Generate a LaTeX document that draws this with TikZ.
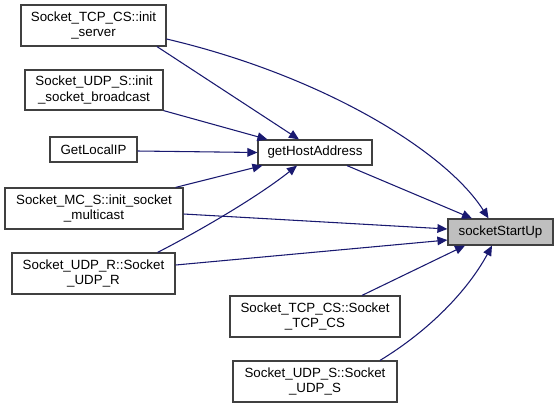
\documentclass[tikz,border=0pt]{standalone}
\usepackage{fontspec}
\setmainfont{Liberation Sans}
\usetikzlibrary{arrows.meta,calc}
\definecolor{edgeblue}{HTML}{191970}
\definecolor{boxgray}{HTML}{404040}
\definecolor{hilite}{HTML}{BFBFBF}
\newcommand\pxu{0.75pt}
\tikzset{
  fn/.style={draw=boxgray, line width=0.9pt, fill=white, inner sep=0pt, align=center,
    font=\fontsize{10pt}{11.5pt}\selectfont},
  cur/.style={fn, fill=hilite},
  call/.style={draw=edgeblue, line width=0.8pt,
    -{Triangle[length=7.5pt, width=6.5pt, fill=edgeblue]}}
}
\begin{document}
\begin{tikzpicture}[x=0.75pt, y=-0.75pt]
\useasboundingbox (0,0) rectangle (559,408);
\node[fn, minimum width=145*\pxu, minimum height=41*\pxu] (initserver) at (93.5,25.5) {Socket\_TCP\_CS::init\\\_server};
\node[fn, minimum width=138*\pxu, minimum height=40*\pxu] (broadcast) at (94,90) {Socket\_UDP\_S::init\\\_socket\_broadcast};
\node[fn, minimum width=87*\pxu, minimum height=25*\pxu] (getlocal) at (93.5,149.5) {GetLocalIP};
\node[fn, minimum width=178*\pxu, minimum height=41*\pxu] (multicast) at (94,208.5) {Socket\_MC\_S::init\_socket\\\_multicast};
\node[fn, minimum width=163*\pxu, minimum height=41*\pxu] (udpr) at (93.5,273.5) {Socket\_UDP\_R::Socket\\\_UDP\_R};
\node[fn, minimum width=114*\pxu, minimum height=25*\pxu] (gha) at (315,152.5) {getHostAddress};
\node[cur, minimum width=105*\pxu, minimum height=26*\pxu] (ssu) at (500.5,232) {socketStartUp};
\node[fn, minimum width=170*\pxu, minimum height=41*\pxu] (tcpcs) at (315,316.5) {Socket\_TCP\_CS::Socket\\\_TCP\_CS};
\node[fn, minimum width=164*\pxu, minimum height=41*\pxu] (udps) at (315,381.5) {Socket\_UDP\_S::Socket\\\_UDP\_S};

\draw[call] ($(initserver.east)+(0,13.5)$) .. controls (320,75) and (445,150) .. ($(ssu.north)+(-12,0)$);
\draw[call] ($(initserver.south)+(63.5,0)$) -- ($(gha.north)+(-16,0)$);
\draw[call] (broadcast.south east) -- ($(gha.north west)+(10,0)$);
\draw[call] ($(getlocal.east)+(0,1.5)$) -- (gha.west);
\draw[call] ($(multicast.north east)+(-8,0)$) -- ($(gha.south west)+(5,0)$);
\draw[call] ($(udpr.north east)+(-18,0)$) .. controls (205,228) and (260,195) .. ($(gha.south)+(-18,0)$);
\draw[call] ($(gha.south)+(32,0)$) -- ($(ssu.north)+(-28.5,0)$);
\draw[call] ($(multicast.east)+(0,5.5)$) -- ($(ssu.west)+(0,-3)$);
\draw[call] ($(udpr.east)+(0,-8.5)$) -- ($(ssu.west)+(0,8)$);
\draw[call] ($(tcpcs.north)+(47,0)$) -- ($(ssu.south)+(-35.5,0)$);
\draw[call] ($(udps.north)+(65,0)$) .. controls (430,330) and (468,290) .. ($(ssu.south)+(-8.5,0)$);
\end{tikzpicture}
\end{document}
